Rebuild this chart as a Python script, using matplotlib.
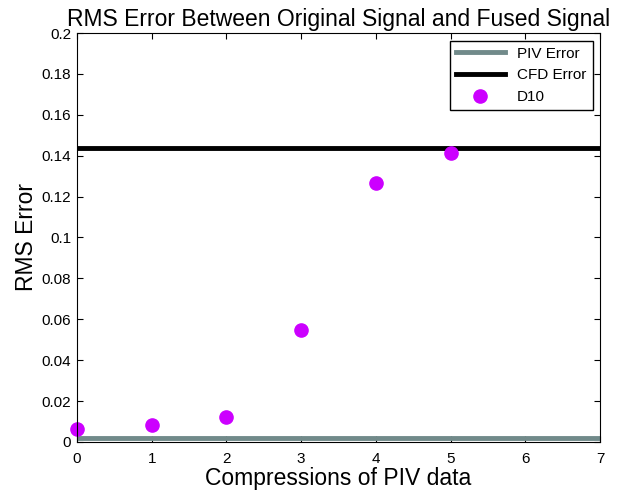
import numpy as np
import matplotlib.pyplot as plt

plt.rcParams['font.family'] = ['Liberation Sans', 'DejaVu Sans']

compressions = [0, 1, 2, 3, 4, 5]
d10 = [0.0062, 0.0085, 0.0121, 0.0545, 0.1265, 0.1412]
piv_error = 0.0018
cfd_error = 0.1440
x_range = [0, 7]

fig = plt.figure(figsize=(6.2, 5.01), dpi=100)
ax = fig.add_axes([0.124, 0.118, 0.844, 0.816])
ax.plot(x_range, [piv_error, piv_error], color='#718a8a', lw=3.5, label='PIV Error')
ax.plot(x_range, [cfd_error, cfd_error], color='black', lw=3.5, label='CFD Error')
ax.plot(compressions, d10, 'o', color='#cc00ff', ms=9.5, label='D10', clip_on=False)
ax.set_xlim(0, 7)
ax.set_ylim(0, 0.2)
ax.set_yticks(np.arange(0, 0.201, 0.02))
ax.set_yticklabels(['0', '0.02', '0.04', '0.06', '0.08', '0.1', '0.12', '0.14', '0.16', '0.18', '0.2'])
ax.tick_params(direction='in', top=True, right=True, labelsize=11, length=4)
ax.tick_params(axis='x', pad=7)
ax.tick_params(axis='y', pad=4)
ax.set_xlabel('Compressions of PIV data', fontsize=16.5, labelpad=1)
ax.set_ylabel('RMS Error', fontsize=16.5, labelpad=3)
ax.set_title('RMS Error Between Original Signal and Fused Signal', fontsize=16.5, pad=5)
leg = ax.legend(loc='upper right', fontsize=11, fancybox=False, edgecolor='black',
                framealpha=1, borderaxespad=0.5, handlelength=3.2)
leg.get_frame().set_linewidth(1)
plt.savefig('out.png')
